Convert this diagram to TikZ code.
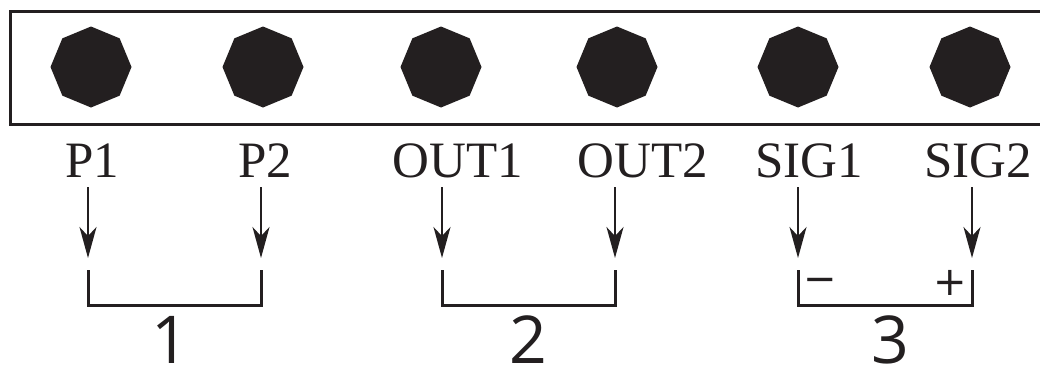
\documentclass[tikz,border=0pt]{standalone}
\usepackage{fontspec}
\setmainfont{Liberation Serif}
\newfontfamily\numfont{Open Sans}
\newfontfamily\sgnfont{DejaVu Sans}
\usetikzlibrary{shapes.geometric,arrows.meta}
\definecolor{ink}{HTML}{231F20}
\begin{document}
\begin{tikzpicture}[x=1pt,y=-1pt,
  pin/.style={regular polygon,regular polygon sides=8,shape border rotate=22.5,
    minimum size=81pt,inner sep=0pt,fill=ink,draw=none},
  lbl/.style={anchor=base,inner sep=0pt,text=ink,font=\fontsize{51}{60}\selectfont},
  num/.style={anchor=base,inner sep=0pt,text=ink,font=\numfont\fontsize{66}{70}\selectfont},
  sgn/.style={anchor=center,inner sep=0pt,text=ink,font=\sgnfont\fontsize{40}{44}\selectfont},
  arr/.style={draw=ink,line width=2pt,-{Stealth[length=31pt,width=17pt,inset=9pt]}},
  brk/.style={draw=ink,line width=3pt}]
\useasboundingbox (0,0) rectangle (1040,367);
\fill[white] (0,0) rectangle (1040,367);
% panel
\draw[draw=ink,line width=3pt] (1050,11.5) -- (10.5,11.5) -- (10.5,124) -- (1050,124);
% pins
\node[pin] (h1) at (91,67) {};
\node[pin] (h2) at (263,67) {};
\node[pin] (h3) at (441,67) {};
\node[pin] (h4) at (617,67) {};
\node[pin] (h5) at (798,67) {};
\node[pin] (h6) at (970,67) {};
% labels
\node[lbl] (l1) at (92,177) {P1};
\node[lbl] (l2) at (265,177) {P2};
\node[lbl] (l3) at (458,177) {OUT1};
\node[lbl] (l4) at (643,177) {OUT2};
\node[lbl] (l5) at (809,177) {SIG1};
\node[lbl] (l6) at (978,177) {SIG2};
% arrow coordinates
\foreach \i/\x in {1/88,2/261,3/442,4/615,5/798,6/972}{
  \coordinate (s\i) at (\x,187);
  \coordinate (e\i) at (\x,258);
  \coordinate (b\i) at (\x,270);
  \coordinate (c\i) at (\x,305);
}
\foreach \i in {1,...,6}{ \draw[arr] (s\i) -- (e\i); }
% brackets
\draw[brk] (b1) -- (c1) -- (c2) -- (b2);
\draw[brk] (b3) -- (c3) -- (c4) -- (b4);
\draw[brk] (b5) -- (c5) -- (c6) -- (b6);
% numbers
\node[num] (n1) at (170,363) {1};
\node[num] (n2) at (528,363) {2};
\node[num] (n3) at (890,363) {3};
% signs
\node[sgn] (m) at (820,285) {−};
\node[sgn] (p) at (950,283) {+};
\end{tikzpicture}
\end{document}
